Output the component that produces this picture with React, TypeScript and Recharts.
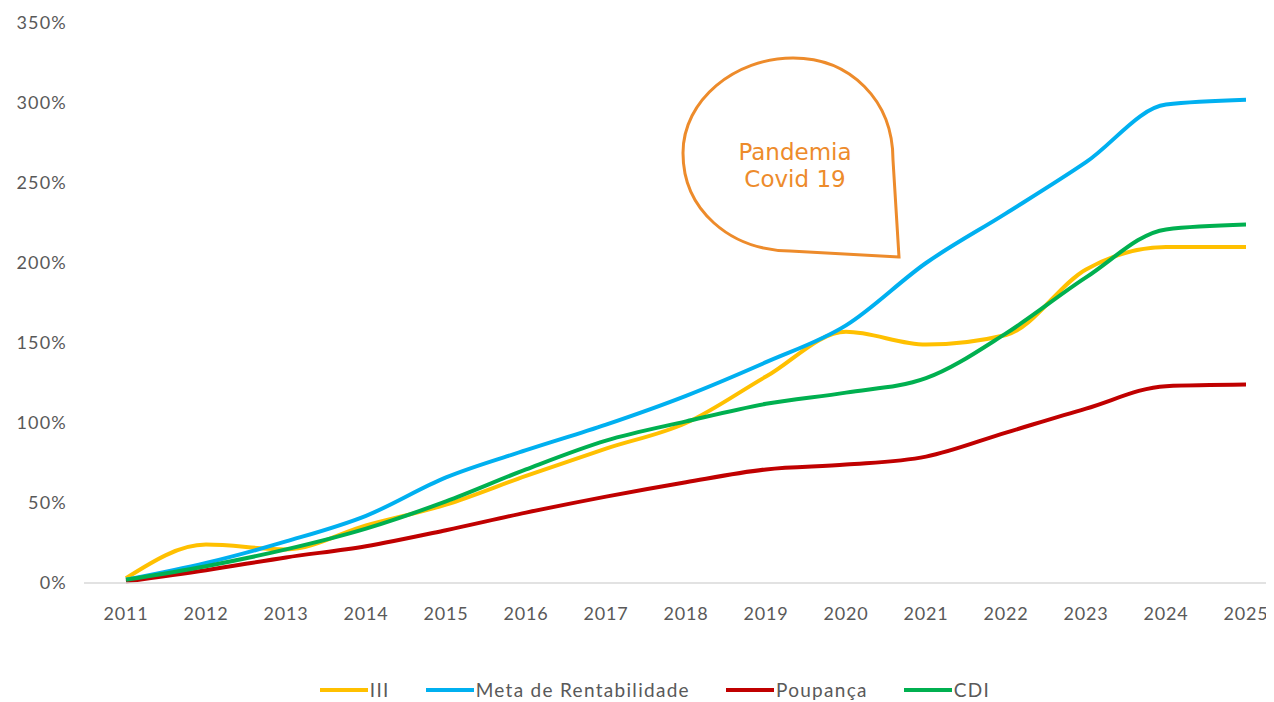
import React from 'react';
import {
  LineChart,
  Line,
  XAxis,
  YAxis,
  Legend,
  Customized,
} from 'recharts';

const years = ['2011', '2012', '2013', '2014', '2015', '2016', '2017', '2018', '2019', '2020', '2021', '2022', '2023', '2024', '2025'];
const iii = [3, 24, 21, 36, 49, 67, 84, 100, 129, 157, 149, 155, 196, 210, 210];
const meta = [2, 12.5, 26, 42, 66, 83, 99, 117, 138, 161, 200, 231, 263, 299, 302];
const poupanca = [1, 8, 16, 23, 33, 44, 54, 63, 71, 74, 79, 94, 109, 123, 124];
const cdi = [2, 10.5, 21, 34, 51, 71, 89, 101, 112, 119, 128, 156, 191, 221, 224];
const yTicks = [0, 50, 100, 150, 200, 250, 300, 350];

const series = [
  { key: 'iii', name: 'III', color: '#FFC000' },
  { key: 'meta', name: 'Meta de Rentabilidade', color: '#00B0F0' },
  { key: 'poupanca', name: 'Poupança', color: '#C00000' },
  { key: 'cdi', name: 'CDI', color: '#00B050' },
];

const data = years.map((year, i) => ({
  year,
  iii: iii[i],
  meta: meta[i],
  poupanca: poupanca[i],
  cdi: cdi[i],
}));

const FONT = 'Lato, "Open Sans", sans-serif';
const TEXT = '#595959';
const ORANGE = '#ED8B2B';

const LegendContent = () => (
  <div
    style={{
      display: 'flex',
      justifyContent: 'center',
      alignItems: 'center',
      marginLeft: 64,
      fontFamily: FONT,
      fontSize: 19,
      letterSpacing: 1.3,
      color: TEXT,
      lineHeight: '24px',
    }}
  >
    {series.map((s) => (
      <div key={s.key} style={{ display: 'flex', alignItems: 'center', marginRight: 36 }}>
        <span style={{ display: 'inline-block', width: 48, height: 4, background: s.color, marginRight: 2 }} />
        <span>{s.name}</span>
      </div>
    ))}
  </div>
);

// speech bubble for the pandemic note (drawn in chart pixels)
const Bubble = () => (
  <g>
    <path
      d="M 891 249 L 782 243 C 722 242, 675 202, 675 145 C 675 92, 727 50, 785 50 C 842 50, 885 92, 885 152 L 891 249 Z"
      fill="none"
      stroke={ORANGE}
      strokeWidth={3}
      strokeLinejoin="miter"
    />
    <text x={787} y={152} textAnchor="middle" fill={ORANGE} fontFamily='"DejaVu Sans", sans-serif' fontSize={23}>
      Pandemia
    </text>
    <text x={787} y={179} textAnchor="middle" fill={ORANGE} fontFamily='"DejaVu Sans", sans-serif' fontSize={23}>
      Covid 19
    </text>
  </g>
);

const App: React.FC = () => {
  return (
    <div style={{ width: 1266, height: 694, background: '#fff' }}>
      <LineChart width={1266} height={694} data={data} margin={{ top: 15, right: 0, bottom: 0, left: 0 }}>
        <XAxis
          dataKey="year"
          padding={{ left: 42, right: 28 }}
          axisLine={{ stroke: '#D9D9D9', strokeWidth: 1.5 }}
          tickLine={false}
          tickSize={0}
          tickMargin={24}
          height={95}
          interval={0}
          tick={{ fill: TEXT, fontFamily: FONT, fontSize: 18, letterSpacing: 0.8 }}
        />
        <YAxis
          domain={[0, 350]}
          ticks={yTicks}
          width={76}
          axisLine={false}
          tickLine={false}
          tickSize={0}
          tickMargin={17}
          tickFormatter={(v: number) => `${v}%`}
          tick={{ fill: TEXT, fontFamily: FONT, fontSize: 18, letterSpacing: 1.2 }}
        />
        <Legend
          verticalAlign="bottom"
          content={<LegendContent />}
          wrapperStyle={{ position: 'absolute', top: 670, left: 0, width: 1266, height: 24 }}
        />
        {series.map((s) => (
          <Line
            key={s.key}
            type="monotone"
            dataKey={s.key}
            name={s.name}
            stroke={s.color}
            strokeWidth={4}
            dot={false}
            isAnimationActive={false}
          />
        ))}
        <Customized component={Bubble} />
      </LineChart>
    </div>
  );
};

export default App;
